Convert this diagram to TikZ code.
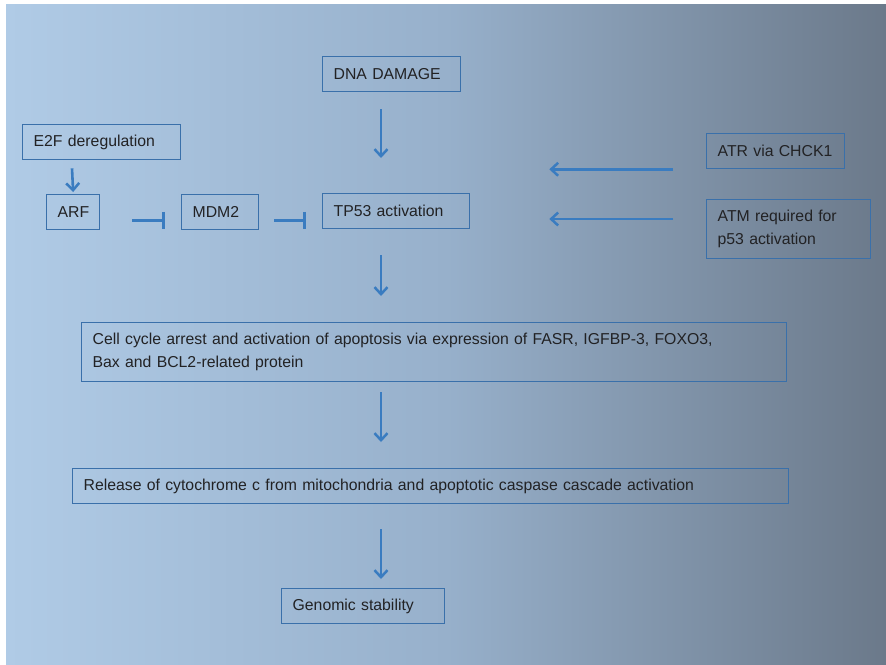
\documentclass[tikz,border=0pt]{standalone}
\usepackage{fontspec}
\setmainfont{Liberation Sans}
\usetikzlibrary{arrows.meta,calc}

\definecolor{bgleft}{RGB}{176,203,230}
\definecolor{bgmid}{RGB}{151,176,203}
\definecolor{bgright}{RGB}{107,121,138}
\definecolor{boxline}{RGB}{58,112,170}
\definecolor{arrowblue}{RGB}{58,124,192}
\definecolor{txt}{RGB}{34,34,36}

% the path's extent is mapped to the 25bp--75bp band of the shading
\pgfdeclarehorizontalshading{bgshade}{100bp}{%
  color(0bp)=(bgleft); color(25bp)=(bgleft); color(50bp)=(bgmid);
  color(75bp)=(bgright); color(100bp)=(bgright)}

\tikzset{
  box/.style={draw=boxline, line width=1.3pt, inner xsep=11pt, inner ysep=0pt,
    align=left, text=txt, font=\fontsize{15.8}{23.5}\selectfont, anchor=north west},
  arr/.style={draw=arrowblue, line width=2.6pt,
    -{Straight Barb[length=7pt,width=13pt,line width=2.5pt]}},
  inh/.style={draw=arrowblue, line width=2.6pt, -{Bar[width=17pt,line width=2.8pt]}},
}

\begin{document}
\begin{tikzpicture}[x=1pt,y=-1pt]
  \useasboundingbox (0,0) rectangle (886,664);
  \shade[shading=bgshade] (6,4) rectangle (886,664);

  % boxes: top-left corner, width, height
  \node[box, text width=116pt, minimum height=35pt] (dna) at (322,56) {DNA DAMAGE};
  \node[box, text width=136pt, minimum height=35pt] (e2f) at (22,124) {E2F deregulation};
  \node[box, text width=31pt,  minimum height=35pt] (arf) at (46,194) {ARF};
  \node[box, text width=55pt,  minimum height=35pt] (mdm2) at (181,194) {MDM2};
  \node[box, text width=125pt, minimum height=35pt] (tp53) at (322,193) {TP53 activation};
  \node[box, text width=116pt, minimum height=35pt] (atr) at (706,133) {ATR via CHCK1};
  \node[box, text width=142pt, minimum height=59pt] (atm) at (706,199) {ATM required for\\p53 activation};
  \node[box, text width=683pt, minimum height=59pt] (cell) at (81,322)
    {Cell cycle arrest and activation of apoptosis via expression of FASR, IGFBP-3, FOXO3,\\Bax and BCL2-related protein};
  \node[box, text width=694pt, minimum height=35pt] (rel) at (72,468)
    {Release of cytochrome c from mitochondria and apoptotic caspase cascade activation};
  \node[box, text width=141pt, minimum height=35pt] (gen) at (281,588) {Genomic stability};

  % activating arrows
  \draw[arr] ($(dna.south west)+(59,17)$) -- ($(tp53.north west)+(59,-35)$);
  \draw[arr] ($(e2f.south west)+(50,8)$) -- ($(arf.north)+(0,-2)$);
  \draw[arr] ($(atr.south west)+(-33,0)$) -- ($(tp53.south east |- atr.south)+(79,0)$);
  \draw[arr] ($(atm.north west)+(-33,20)$) -- ($(tp53.south east |- atm.north)+(79,20)$);
  \draw[arr] ($(tp53.south west)+(59,26)$) -- ($(tp53.south west |- cell.north)+(59,-26)$);
  \draw[arr] ($(cell.south west)+(300,10)$) -- ($(cell.south west |- rel.north)+(300,-26)$);
  \draw[arr] ($(rel.south west)+(309,25)$) -- ($(rel.south west |- gen.north)+(309,-9)$);

  % inhibitory connectors
  \draw[inh] ($(arf.south east)+(32,-10)$) -- ($(mdm2.south west)+(-16,-10)$);
  \draw[inh] ($(mdm2.south east)+(15,-10)$) -- ($(tp53.south west)+(-16,-9)$);
\end{tikzpicture}
\end{document}
